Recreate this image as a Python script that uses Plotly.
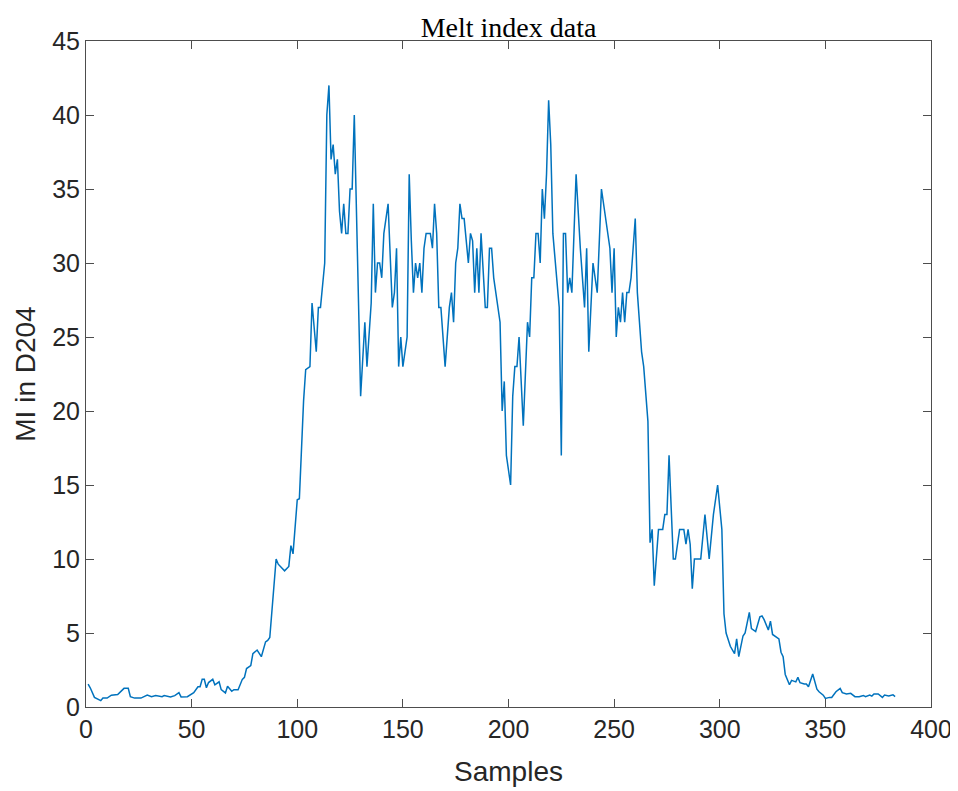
# melt index plot - MI in D204 over samples

import plotly.graph_objects as go

# sample index of each vertex
samples = [1, 2, 4, 7, 8, 10, 12, 15, 18, 20, 21, 23, 26, 29, 31, 33, 36, 37, 40, 42,
           44, 45, 48, 51, 53, 54, 55, 56, 57, 58, 60, 61, 63, 64, 66, 67, 69, 70, 72, 74,
           75, 76, 78, 79, 81, 83, 85, 86, 87, 90, 91, 94, 96, 97, 98, 100, 101, 103, 104, 106,
           107, 109, 110, 111, 113, 114, 115, 116, 117, 118, 119, 120, 121, 122, 123, 124, 125, 126, 127, 130,
           132, 133, 135, 136, 137, 138, 139, 140, 141, 143, 145, 146, 147, 148, 149, 150, 152, 153, 154, 155,
           156, 157, 158, 159, 160, 161, 163, 164, 165, 166, 167, 168, 170, 172, 173, 174, 175, 176, 177, 178,
           179, 181, 182, 183, 184, 185, 186, 187, 189, 190, 191, 192, 193, 194, 196, 197, 198, 199, 201, 202,
           203, 204, 205, 207, 209, 210, 211, 212, 213, 214, 215, 216, 217, 218, 219, 220, 221, 224, 225, 226,
           227, 228, 229, 230, 232, 234, 236, 237, 238, 240, 242, 244, 248, 249, 250, 251, 252, 253, 254, 255,
           256, 257, 258, 260, 261, 263, 264, 266, 267, 268, 269, 271, 273, 274, 275, 276, 278, 279, 281, 283,
           284, 285, 286, 287, 288, 291, 293, 295, 297, 299, 301, 302, 303, 305, 307, 308, 309, 311, 312, 314,
           315, 317, 319, 320, 321, 323, 324, 325, 328, 329, 330, 331, 332, 333, 334, 336, 337, 338, 340, 341,
           342, 344, 346, 347, 349, 350, 352, 353, 355, 357, 358, 360, 362, 364, 366, 368, 369, 371, 372, 373,
           375, 377, 378, 380, 382, 383]

# MI values at those samples
mi_values = [1.55, 1.3, 0.65, 0.43, 0.6, 0.6, 0.8, 0.85, 1.26, 1.26, 0.7, 0.6, 0.6, 0.8, 0.7, 0.77, 0.7, 0.77, 0.68, 0.77,
             0.97, 0.68, 0.7, 0.97, 1.37, 1.37, 1.87, 1.87, 1.3, 1.65, 1.87, 1.5, 1.7, 1.17, 0.95, 1.4, 1.06, 1.17, 1.17, 1.87,
             2.0, 2.6, 2.8, 3.6, 3.85, 3.4, 4.4, 4.5, 4.7, 10.0, 9.65, 9.2, 9.5, 10.9, 10.35, 14.0, 14.07, 20.7, 22.8, 23.0,
             27.3, 24.0, 27.0, 27.0, 30.0, 40.0, 42.0, 37.0, 38.0, 36.0, 37.0, 33.5, 32.0, 34.0, 32.0, 32.0, 35.0, 35.0, 40.0, 21.0,
             26.0, 23.0, 27.3, 34.0, 28.0, 30.0, 30.0, 29.0, 32.0, 34.0, 27.0, 28.0, 31.0, 23.0, 25.0, 23.0, 25.0, 36.0, 31.5, 28.0,
             30.0, 29.0, 30.0, 28.0, 31.0, 32.0, 32.0, 31.0, 34.0, 32.0, 27.0, 27.0, 23.0, 27.0, 28.0, 26.0, 30.0, 31.0, 34.0, 33.0,
             33.0, 30.0, 32.0, 31.5, 28.0, 31.0, 28.0, 32.0, 27.0, 27.0, 31.0, 31.0, 29.0, 28.0, 26.0, 20.0, 22.0, 17.0, 15.0, 21.0,
             23.0, 23.0, 25.0, 19.0, 26.0, 25.0, 29.0, 29.0, 32.0, 32.0, 30.0, 35.0, 33.0, 36.0, 41.0, 38.0, 32.0, 27.0, 17.0, 32.0,
             32.0, 28.0, 29.0, 28.0, 36.0, 31.0, 27.0, 31.0, 24.0, 30.0, 28.0, 35.0, 31.0, 28.0, 31.0, 25.0, 27.0, 26.0, 28.0, 26.0,
             28.0, 28.0, 29.0, 33.0, 28.0, 24.0, 23.0, 19.3, 11.1, 12.0, 8.2, 12.0, 12.0, 13.0, 13.0, 17.0, 10.0, 10.0, 12.0, 12.0,
             11.0, 12.0, 11.0, 8.0, 10.0, 10.0, 13.0, 10.0, 13.0, 15.0, 12.0, 6.3, 5.0, 4.1, 3.6, 4.6, 3.4, 4.8, 5.0, 6.4,
             5.3, 5.1, 6.1, 6.15, 5.9, 5.2, 5.8, 4.9, 4.6, 3.7, 3.4, 2.2, 1.9, 1.5, 1.8, 1.7, 2.0, 1.64, 1.55, 1.55,
             1.37, 2.23, 1.2, 1.03, 0.8, 0.58, 0.65, 0.65, 1.03, 1.26, 0.97, 0.88, 0.92, 0.7, 0.7, 0.78, 0.7, 0.81, 0.74, 0.88,
             0.88, 0.65, 0.81, 0.74, 0.83, 0.7]

x_ticks = [0, 50, 100, 150, 200, 250, 300, 350, 400]
y_ticks = [0, 5, 10, 15, 20, 25, 30, 35, 40, 45]

axis_col = "#262626"
sans = "Liberation Sans, Arial"

fig = go.Figure()
fig.add_trace(go.Scatter(x=samples, y=mi_values, mode="lines",
                         line=dict(color="#0072BD", width=1.5), showlegend=False))

axis_style = dict(showline=True, linecolor="#4d4d4d", linewidth=1, mirror="ticks",
                  ticks="inside", ticklen=8, tickcolor="#4d4d4d", showgrid=False, zeroline=False,
                  automargin=False, tickfont=dict(family=sans, size=25, color=axis_col))

fig.update_xaxes(range=[0, 400], tickvals=x_ticks, **axis_style,
                 title=dict(text="Samples", standoff=19, font=dict(family=sans, size=28, color=axis_col)))
fig.update_yaxes(range=[0, 45], tickvals=y_ticks, **axis_style,
                 title=dict(text="MI in D204", standoff=8, font=dict(family=sans, size=28, color=axis_col)))

# page has an 8px body margin, so the figure is shrunk and shifted to keep the plot box in place
fig.update_layout(
    width=950, height=783,
    margin=dict(l=78, r=27, t=33, b=84),
    plot_bgcolor="white", paper_bgcolor="white",
    title=dict(text="Melt index data", x=0.5, xref="paper", y=1 - 19 / 783, yref="container",
               yanchor="middle", font=dict(family="Liberation Serif, Times New Roman", size=28, color="black")),
)

fig.write_html("out.html")
